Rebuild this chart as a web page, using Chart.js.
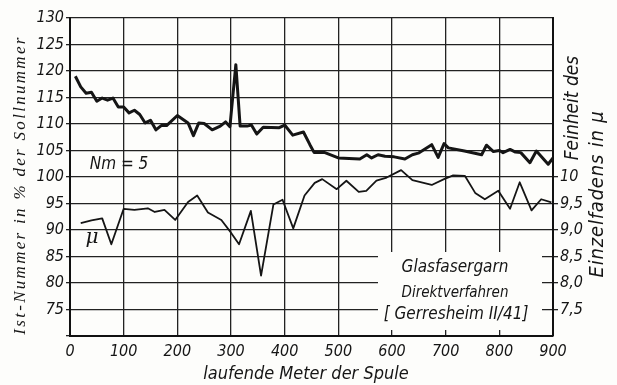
<!DOCTYPE html>
<html>
<head>
<meta charset="utf-8">
<script src="https://cdn.jsdelivr.net/npm/chart.js@4.4.1/dist/chart.umd.min.js"></script>
<style>
html,body{margin:0;padding:0;background:#fdfdfb;}
#wrap{width:617px;height:385px;position:relative;}
</style>
</head>
<body>
<div id="wrap"><canvas id="c" width="617" height="385"></canvas></div>
<script>
// Nm = 5 series: running metres and actual count in % of nominal count
const nmMeters = [10,20,30,40,50,60,70,80,90,100,110,120,130,140,150,160,170,180,200,220,230,240,250,265,280,290,298,309,317,330,338,348,360,390,400,415,435,447,455,475,500,540,553,562,574,587,604,624,638,649,674,686,697,705,735,767,776,789,800,807,820,830,840,857,869,891,900];
const nmValues = [119,117,115.8,116,114.3,114.9,114.5,114.9,113.2,113.2,112.1,112.6,111.8,110.2,110.7,108.9,109.7,109.7,111.6,110.2,107.8,110.2,110.1,108.9,109.6,110.4,109.5,121.2,109.6,109.6,109.8,108.1,109.4,109.3,109.8,107.9,108.5,106.1,104.6,104.6,103.6,103.4,104.2,103.6,104.2,103.9,103.8,103.4,104.2,104.5,106.1,103.7,106.3,105.5,104.9,104.2,106,104.8,105,104.6,105.2,104.7,104.6,102.7,104.9,102.4,103.6];
// fibre fineness series (µ)
const muMeters = [20,40,60,77,100,120,145,158,176,196,220,237,257,282,300,315,337,356,379,396,416,437,456,470,497,515,538,552,571,590,617,638,674,697,714,736,755,773,798,820,838,860,878,897];
const muValues = [9.13,9.18,9.22,8.73,9.40,9.38,9.41,9.34,9.38,9.19,9.53,9.65,9.33,9.19,8.95,8.73,9.36,8.14,9.48,9.57,9.03,9.65,9.89,9.96,9.77,9.93,9.72,9.74,9.93,9.99,10.13,9.94,9.85,9.96,10.03,10.02,9.70,9.58,9.74,9.40,9.90,9.37,9.58,9.52];
const xTicks = [0,100,200,300,400,500,600,700,800,900];
const leftTicks = [75,80,85,90,95,100,105,110,115,120,125,130];
const rightTicks = [7.5,8.0,8.5,9.0,9.5,10];

const INK = '#151515';
const NARROW = '"Liberation Sans Narrow","DejaVu Sans Condensed","Arial Narrow","Liberation Sans",sans-serif';

const notes = {
  id: 'notes',
  beforeDatasetsDraw(chart) {
    const ctx = chart.ctx;
    // blank panel behind the caption (grid interrupted there)
    ctx.save();
    ctx.fillStyle = '#fdfdfb';
    ctx.fillRect(378, 252, 164, 78);
    ctx.restore();
  },
  afterDraw(chart) {
    const ctx = chart.ctx;
    ctx.save();
    ctx.fillStyle = INK;
    ctx.textAlign = 'center';
    ctx.textBaseline = 'middle';
    // caption
    ctx.font = 'italic 17px ' + NARROW;
    ctx.fillText('Glasfasergarn', 455, 268);
    ctx.font = 'italic 15px ' + NARROW;
    ctx.fillText('Direktverfahren', 455, 293);
    ctx.font = 'italic 17px ' + NARROW;
    ctx.fillText('[ Gerresheim II/41]', 456, 315);
    // series labels
    ctx.font = 'italic 17px ' + NARROW;
    ctx.fillText('Nm = 5', 119, 165);
    ctx.font = 'italic 20px "DejaVu Serif",serif';
    ctx.fillText('\u03BC', 92, 238);
    // x title
    ctx.font = 'italic 18px ' + NARROW;
    ctx.fillText('laufende Meter der Spule', 306, 374);
    // left title
    ctx.save();
    ctx.translate(21, 185);
    ctx.rotate(-Math.PI/2);
    ctx.font = 'italic 17px "Liberation Serif","DejaVu Serif",serif';
    try { ctx.letterSpacing = '2.3px'; } catch(e) {}
    ctx.fillText('Ist-Nummer in % der Sollnummer', 0, 0);
    ctx.restore();
    // right titles
    ctx.save();
    ctx.translate(573, 108);
    ctx.rotate(-Math.PI/2);
    ctx.font = 'italic 19px ' + NARROW;
    ctx.fillText('Feinheit des', 0, 0);
    ctx.restore();
    ctx.save();
    ctx.translate(598, 194);
    ctx.rotate(-Math.PI/2);
    ctx.font = 'italic 20px ' + NARROW;
    try { ctx.letterSpacing = '0.8px'; } catch(e) {}
    ctx.fillText('Einzelfadens in \u03BC', 0, 0);
    ctx.restore();
    ctx.restore();
  }
};

const tickFont = {family: NARROW, size: 16, style: 'italic'};

new Chart(document.getElementById('c'), {
  type: 'line',
  data: {
    datasets: [
      {
        label: 'Nm = 5',
        data: nmMeters.map((m, i) => ({x: m, y: nmValues[i]})),
        borderColor: INK, borderWidth: 3, pointRadius: 0, tension: 0,
        yAxisID: 'y', borderJoinStyle: 'round'
      },
      {
        label: '\u03BC',
        data: muMeters.map((m, i) => ({x: m, y: muValues[i]})),
        borderColor: INK, borderWidth: 1.8, pointRadius: 0, tension: 0,
        yAxisID: 'y2', borderJoinStyle: 'round'
      }
    ]
  },
  options: {
    responsive: false, animation: false, devicePixelRatio: 1,
    layout: {padding: {top: 18, left: 0, right: 0, bottom: 0}},
    plugins: {legend: {display: false}, tooltip: {enabled: false}},
    scales: {
      x: {
        type: 'linear', min: 0, max: 900,
        afterBuildTicks(s) { s.ticks = xTicks.map(v => ({value: v})); },
        afterFit(s) { s.height = 49; },
        grid: {color: '#222', lineWidth: 1.3, drawTicks: false},
        border: {color: '#111', width: 2},
        ticks: {color: INK, font: tickFont, padding: 6, maxRotation: 0, callback: v => String(v)}
      },
      y: {
        type: 'linear', position: 'left', min: 70, max: 130,
        afterBuildTicks(s) { s.ticks = [70].concat(leftTicks).map(v => ({value: v})); },
        afterFit(s) { s.width = 70; },
        grid: {color: '#222', lineWidth: 1.3, drawTicks: true, tickLength: 4},
        border: {color: '#111', width: 2},
        ticks: {color: INK, font: tickFont, padding: 2, callback: v => v === 70 ? '' : String(v)}
      },
      y2: {
        type: 'linear', position: 'right', min: 7, max: 13,
        afterBuildTicks(s) { s.ticks = rightTicks.map(v => ({value: v})); },
        afterFit(s) { s.width = 64; },
        grid: {display: true, drawOnChartArea: false, drawTicks: true, tickLength: 5, color: '#222', lineWidth: 1.3},
        border: {color: '#111', width: 2},
        ticks: {color: INK, font: tickFont, padding: 2,
          callback: v => v === 10 ? '10' : v.toFixed(1).replace('.', ',')}
      }
    }
  },
  plugins: [notes]
});
</script>
</body>
</html>
